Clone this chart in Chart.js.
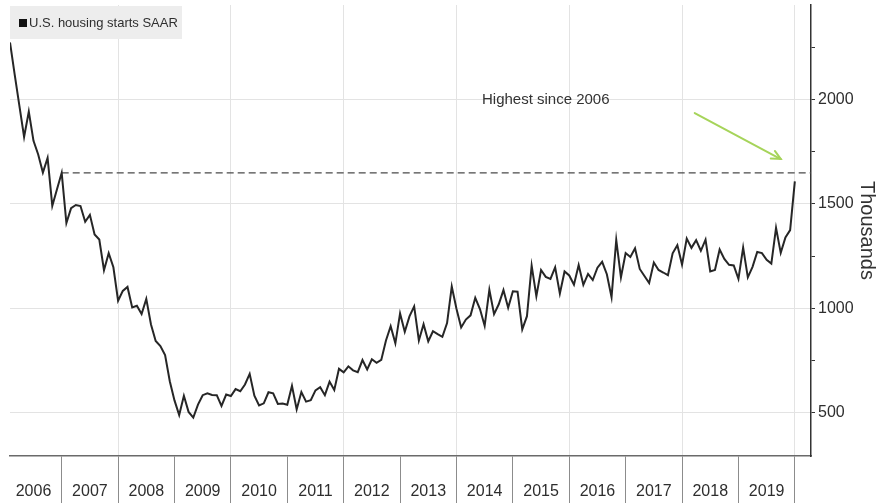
<!DOCTYPE html>
<html>
<head>
<meta charset="utf-8">
<script src="https://cdn.jsdelivr.net/npm/chart.js@4.4.1/dist/chart.umd.min.js"></script>
<style>
html,body{margin:0;padding:0;background:#fff;overflow:hidden}
#wrap{width:891px;height:503px;position:relative}
</style>
</head>
<body>
<div id="wrap"><canvas id="c" width="891" height="503"></canvas></div>
<script>
// ---- data (thousands of units, SAAR, monthly) ----
const years = [2006,2007,2008,2009,2010,2011,2012,2013,2014,2015,2016,2017,2018,2019];
const s2006 = [2273,2119,1969,1821,1942,1802,1737,1650,1720,1491,1570,1649];
const s2007 = [1409,1480,1495,1490,1415,1448,1354,1330,1183,1264,1197,1037];
const s2008 = [1084,1103,1005,1013,973,1046,923,844,820,777,652,560];
const s2009 = [490,582,505,478,540,585,594,586,585,534,588,581];
const s2010 = [614,604,636,687,583,536,546,599,594,543,545,539];
const s2011 = [630,517,600,554,561,608,623,585,650,610,711,694];
const s2012 = [723,704,695,753,708,757,740,754,847,915,833,976];
const s2013 = [888,962,1010,847,925,843,891,877,864,930,1105,999];
const s2014 = [909,947,967,1051,997,917,1089,973,1020,1088,1003,1082];
const s2015 = [1080,900,963,1205,1059,1184,1151,1141,1197,1071,1177,1158];
const s2016 = [1114,1208,1113,1165,1136,1195,1223,1164,1054,1328,1149,1265];
const s2017 = [1246,1288,1189,1155,1122,1220,1184,1172,1159,1264,1303,1210];
const s2018 = [1334,1290,1327,1276,1329,1177,1184,1282,1237,1209,1206,1142];
const s2019 = [1291,1149,1199,1270,1265,1233,1215,1386,1266,1340,1375,1608];
const seriesLabel = 'U.S. housing starts SAAR';
const yTickValues = [500,750,1000,1250,1500,1750,2000,2250];
const yLabelStep = 500;
const highLevel = 1649;          // Dec 2006 level
const highStartIndex = 11;       // Dec 2006
const annotationText = 'Highest since 2006';
const annotationPos = {x: 114, y: 2000};
const arrowFrom = {x: 145.7, y: 1935};
const arrowTo = {x: 164, y: 1715};
const axisTitle = 'Thousands';
const xMax = 170.44;
const yMin = 294, yMax = 2452;

const values = [].concat(s2006,s2007,s2008,s2009,s2010,s2011,s2012,s2013,s2014,s2015,s2016,s2017,s2018,s2019);
const points = values.map((v,i)=>({x:i,y:v}));
const dashPts = [{x:highStartIndex,y:highLevel},{x:xMax,y:highLevel}];

const FONT = '"Liberation Sans", Arial, sans-serif';
const TXT = '#333333';

const overlay = {
  id:'overlay',
  beforeDatasetsDraw(chart){
    const {ctx, chartArea:a} = chart;
    ctx.save();
    ctx.fillStyle = '#ededed';
    ctx.fillRect(a.left, a.top+1, 172, 33);
    ctx.fillStyle = '#111111';
    ctx.fillRect(a.left+9, a.top+14, 8, 8);
    ctx.fillStyle = '#2e2e2e';
    ctx.font = '13px ' + FONT;
    ctx.textBaseline = 'middle';
    ctx.textAlign = 'left';
    ctx.fillText(seriesLabel, a.left+19, a.top+18.5);
    ctx.restore();
  },
  afterDatasetsDraw(chart){
    const {ctx, scales:{x,y}} = chart;
    ctx.save();
    ctx.fillStyle = TXT;
    ctx.font = '15px ' + FONT;
    ctx.textAlign = 'center';
    ctx.textBaseline = 'middle';
    ctx.fillText(annotationText, x.getPixelForValue(annotationPos.x), y.getPixelForValue(annotationPos.y));
    const x1 = x.getPixelForValue(arrowFrom.x), y1 = y.getPixelForValue(arrowFrom.y);
    const x2 = x.getPixelForValue(arrowTo.x), y2 = y.getPixelForValue(arrowTo.y);
    ctx.strokeStyle = '#a6d45a';
    ctx.lineWidth = 2;
    ctx.lineCap = 'round';
    ctx.beginPath(); ctx.moveTo(x1,y1); ctx.lineTo(x2,y2); ctx.stroke();
    const ang = Math.atan2(y2-y1, x2-x1), L = 10;
    ctx.beginPath();
    ctx.moveTo(x2 - L*Math.cos(ang-0.45), y2 - L*Math.sin(ang-0.45));
    ctx.lineTo(x2, y2);
    ctx.lineTo(x2 - L*Math.cos(ang+0.45), y2 - L*Math.sin(ang+0.45));
    ctx.stroke();
    ctx.restore();
  }
};

new Chart(document.getElementById('c'), {
  type: 'line',
  data: {
    datasets: [
      {label: seriesLabel, data: points, borderColor: '#262626', borderWidth: 2, pointRadius: 0, tension: 0},
      {label: 'high', data: dashPts, borderColor: '#4a4a4a', borderWidth: 1.3, borderDash: [7,4], pointRadius: 0}
    ]
  },
  options: {
    responsive: false,
    animation: false,
    layout: {padding: {left: 10, top: 5, right: 0, bottom: 0}},
    plugins: {legend: {display: false}, tooltip: {enabled: false}},
    scales: {
      x: {
        type: 'linear', min: 0, max: xMax,
        afterBuildTicks: s => { s.ticks = years.map((yr,k)=>({value: 12*k+11})); },
        afterFit: s => { s.height = 47; s.paddingLeft = 0; s.paddingRight = 0; },
        grid: {
          color: c => (c.tick && ((c.tick.value+1)/12) % 2 === 0) ? '#e3e3e3' : 'rgba(0,0,0,0)',
          tickColor: '#8c8c8c',
          tickLength: 47,
          lineWidth: 1
        },
        border: {color: '#6a6a6a', width: 1.5},
        ticks: {
          callback: (v,i) => String(years[i]),
          labelOffset: -28.2,
          padding: -21,
          color: '#2e2e2e',
          font: {family: FONT, size: 16},
          maxRotation: 0,
          autoSkip: false
        }
      },
      y: {
        position: 'right', min: yMin, max: yMax,
        afterBuildTicks: s => { s.ticks = yTickValues.map(v=>({value:v})); },
        afterFit: s => { s.width = 80; s.paddingTop = 0; s.paddingBottom = 0; },
        grid: {
          color: c => (c.tick && c.tick.value % yLabelStep === 0) ? '#e3e3e3' : 'rgba(0,0,0,0)',
          tickColor: '#333333',
          tickLength: 4
        },
        border: {color: '#333333', width: 1.5},
        ticks: {
          callback: v => (v % yLabelStep === 0) ? String(v) : '',
          padding: 3,
          color: '#2e2e2e',
          font: {family: FONT, size: 16}
        },
        title: {display: true, text: axisTitle, color: TXT, font: {family: FONT, size: 20}, padding: {top: 12, bottom: 0}}
      }
    }
  },
  plugins: [overlay]
});
</script>
</body>
</html>
